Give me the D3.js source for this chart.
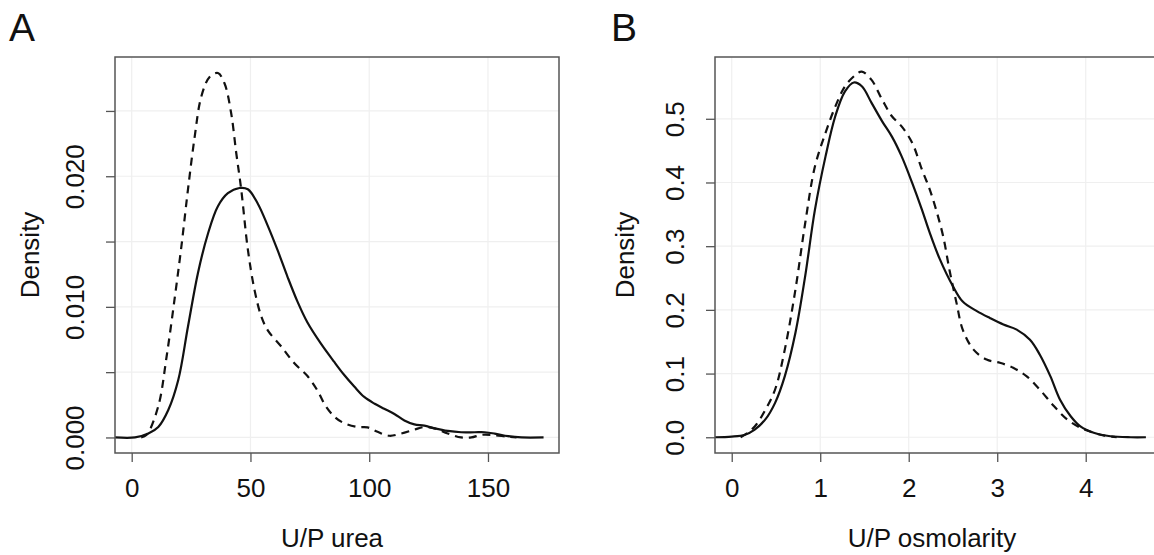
<!DOCTYPE html>
<html>
<head>
<meta charset="utf-8">
<script src="https://cdn.jsdelivr.net/npm/d3@7"></script>
<style>
  body { margin: 0; background: #fff; }
  svg { display: block; font-family: "Liberation Sans", Arial, sans-serif; }
</style>
</head>
<body>
<svg id="chart" width="1154" height="555"></svg>
<script>
// Panel A: U/P urea density (solid and dashed group)
const ureaSolidX = [-7, 1.4, 7, 11.2, 15.4, 19.6, 23.7, 27.9, 32.1, 36.3, 40.5, 45.4, 48.9, 53.1, 57.3, 61.5, 65.6, 69.8, 74, 79.6, 85.2, 89.4, 93.7, 97.9, 102.1, 106.3, 110.6, 114.8, 119, 123.2, 127.5, 133.1, 138.7, 144.4, 148.6, 152.8, 158.5, 164.1, 173.4];
const ureaSolidY = [0, 0, 0.0003, 0.0008, 0.0021, 0.0044, 0.0085, 0.0126, 0.0156, 0.0177, 0.0187, 0.0191, 0.0190, 0.0179, 0.0162, 0.0143, 0.0123, 0.0104, 0.0088, 0.0072, 0.0058, 0.0048, 0.0039, 0.0031, 0.0026, 0.0022, 0.0018, 0.0013, 0.0010, 0.0009, 0.0007, 0.0005, 0.0004, 0.0004, 0.0004, 0.0003, 0.0001, 0, 0];
const ureaDashedX = [4, 6.3, 11.2, 14.7, 18.2, 20.9, 23.7, 26.5, 29.3, 32.8, 36.3, 39.1, 41.9, 44, 46.1, 48.9, 51.7, 54.5, 57.3, 62.8, 68.4, 74, 78.2, 81.7, 85.9, 89.4, 95, 99.3, 103.5, 108.5, 113.4, 119, 123.2, 127.5, 133.1, 138.7, 143, 147.2, 151.4, 158.5, 162];
const ureaDashedY = [0, 0.0002, 0.0024, 0.0062, 0.0108, 0.0146, 0.019, 0.023, 0.0261, 0.0276, 0.0279, 0.0271, 0.0248, 0.0218, 0.019, 0.0144, 0.0113, 0.0093, 0.0082, 0.0070, 0.0057, 0.0047, 0.0036, 0.0024, 0.0015, 0.0011, 0.0008, 0.00077, 0.00043, 0.00013, 0.0003, 0.0006, 0.0008, 0.0007, 0.0003, 0, 0, 0.0002, 0.0002, 0.00005, 0];
const ureaXTicks = [0, 50, 100, 150];
const ureaXLabels = ["0", "50", "100", "150"];
const ureaYTicks = [0, 0.005, 0.010, 0.015, 0.020, 0.025];
const ureaYLabels = ["0.000", "", "0.010", "", "0.020", ""];

// Panel B: U/P osmolarity density
const osmSolidX = [-0.19, 0, 0.15, 0.26, 0.38, 0.49, 0.60, 0.72, 0.83, 0.94, 1.06, 1.17, 1.28, 1.38, 1.47, 1.58, 1.70, 1.81, 1.92, 2.04, 2.15, 2.235, 2.35, 2.50, 2.61, 2.77, 2.92, 3.07, 3.22, 3.37, 3.48, 3.60, 3.71, 3.83, 3.94, 4.09, 4.28, 4.51, 4.68];
const osmSolidY = [0, 0.001, 0.004, 0.012, 0.028, 0.054, 0.096, 0.164, 0.253, 0.357, 0.441, 0.504, 0.543, 0.557, 0.551, 0.525, 0.496, 0.472, 0.441, 0.399, 0.357, 0.322, 0.280, 0.237, 0.213, 0.198, 0.187, 0.177, 0.169, 0.153, 0.130, 0.096, 0.059, 0.033, 0.017, 0.007, 0.0016, 0, 0];
const osmDashedX = [0.1, 0.15, 0.26, 0.38, 0.49, 0.60, 0.72, 0.83, 0.94, 1.06, 1.17, 1.28, 1.40, 1.47, 1.58, 1.70, 1.81, 1.92, 2.04, 2.15, 2.235, 2.31, 2.39, 2.46, 2.54, 2.61, 2.73, 2.88, 3.03, 3.18, 3.33, 3.48, 3.64, 3.79, 3.94, 4.09, 4.2, 4.35];
const osmDashedY = [0, 0.004, 0.017, 0.043, 0.075, 0.138, 0.232, 0.336, 0.425, 0.478, 0.519, 0.551, 0.569, 0.574, 0.561, 0.530, 0.504, 0.488, 0.462, 0.420, 0.390, 0.357, 0.315, 0.263, 0.211, 0.169, 0.138, 0.122, 0.117, 0.109, 0.096, 0.075, 0.049, 0.028, 0.015, 0.007, 0.003, 0];
const osmXTicks = [0, 1, 2, 3, 4];
const osmXLabels = ["0", "1", "2", "3", "4"];
const osmYTicks = [0, 0.1, 0.2, 0.3, 0.4, 0.5];
const osmYLabels = ["0.0", "0.1", "0.2", "0.3", "0.4", "0.5"];

const svg = d3.select("#chart");
const boxColor = "#555";
const gridColor = "#efefef";
const fontSize = "26px";

function drawPanel(p) {
  const g = svg.append("g").attr("transform", `translate(${p.left}, 0)`);
  const w = 444, top = 57, bottom = 453;

  const x = d3.scaleLinear().domain(p.xDomain).range([0, w]);
  const y = d3.scaleLinear().domain(p.yDomain).range([bottom, top]);

  // grid
  g.selectAll("line.vgrid").data(p.xTicks).enter().append("line")
    .attr("x1", (d) => x(d)).attr("x2", (d) => x(d))
    .attr("y1", top).attr("y2", bottom)
    .attr("stroke", gridColor).attr("stroke-width", 1.2);
  g.selectAll("line.hgrid").data(p.yTicks).enter().append("line")
    .attr("x1", 0).attr("x2", w)
    .attr("y1", (d) => y(d)).attr("y2", (d) => y(d))
    .attr("stroke", gridColor).attr("stroke-width", 1.2);

  // axes (R style, ticks outside)
  const xAxis = g.append("g").attr("transform", `translate(0, ${bottom})`)
    .call(d3.axisBottom(x).tickValues(p.xTicks).tickSize(9).tickPadding(17)
      .tickFormat((d, i) => p.xLabels[i]));
  const yAxis = g.append("g")
    .call(d3.axisLeft(y).tickValues(p.yTicks).tickSize(9)
      .tickFormat((d, i) => p.yLabels[i]));
  [xAxis, yAxis].forEach((a) => {
    a.select(".domain").remove();
    a.selectAll(".tick line").attr("stroke", boxColor).attr("stroke-width", 1.3);
    a.selectAll("text").attr("fill", "#111").style("font-size", fontSize);
  });
  xAxis.selectAll("text").attr("dy", "0.71em");
  yAxis.selectAll("text")
    .attr("x", null).attr("dy", null)
    .attr("transform", "translate(-40, 0) rotate(-90)")
    .attr("text-anchor", "middle").attr("dominant-baseline", "central");

  // curves
  const line = d3.line()
    .x((d) => x(d[0])).y((d) => y(d[1]))
    .curve(d3.curveCatmullRom.alpha(0.5));
  const solid = p.solidX.map((v, i) => [v, p.solidY[i]]);
  const dashed = p.dashedX.map((v, i) => [v, p.dashedY[i]]);
  g.append("path").datum(solid).attr("d", line)
    .attr("fill", "none").attr("stroke", "#111").attr("stroke-width", 2.2);
  g.append("path").datum(dashed).attr("d", line)
    .attr("fill", "none").attr("stroke", "#111").attr("stroke-width", 2.2)
    .attr("stroke-dasharray", "8,6");

  // box
  g.append("rect").attr("x", 0).attr("y", top).attr("width", w).attr("height", bottom - top)
    .attr("fill", "none").attr("stroke", boxColor).attr("stroke-width", 1.5);

  // labels
  g.append("text").attr("x", w / 2 - 5).attr("y", 547)
    .attr("text-anchor", "middle").style("font-size", fontSize).attr("fill", "#111")
    .text(p.xLabel);
  g.append("text").attr("transform", `translate(${p.densityX}, 255) rotate(-90)`)
    .attr("text-anchor", "middle").attr("dominant-baseline", "central")
    .style("font-size", fontSize).attr("fill", "#111")
    .text("Density");
  g.append("text").attr("x", p.letterX).attr("y", 41)
    .style("font-size", "39px").attr("fill", "#111")
    .text(p.letter);
}

drawPanel({
  left: 115, letter: "A", letterX: -106, densityX: -85,
  xDomain: [-7.03, 179.9], yDomain: [-0.00119, 0.02913],
  xTicks: ureaXTicks, xLabels: ureaXLabels, yTicks: ureaYTicks, yLabels: ureaYLabels,
  solidX: ureaSolidX, solidY: ureaSolidY, dashedX: ureaDashedX, dashedY: ureaDashedY,
  xLabel: "U/P urea"
});

drawPanel({
  left: 715, letter: "B", letterX: -104, densityX: -90,
  xDomain: [-0.189, 4.828], yDomain: [-0.0247, 0.597],
  xTicks: osmXTicks, xLabels: osmXLabels, yTicks: osmYTicks, yLabels: osmYLabels,
  solidX: osmSolidX, solidY: osmSolidY, dashedX: osmDashedX, dashedY: osmDashedY,
  xLabel: "U/P osmolarity"
});
</script>
</body>
</html>
